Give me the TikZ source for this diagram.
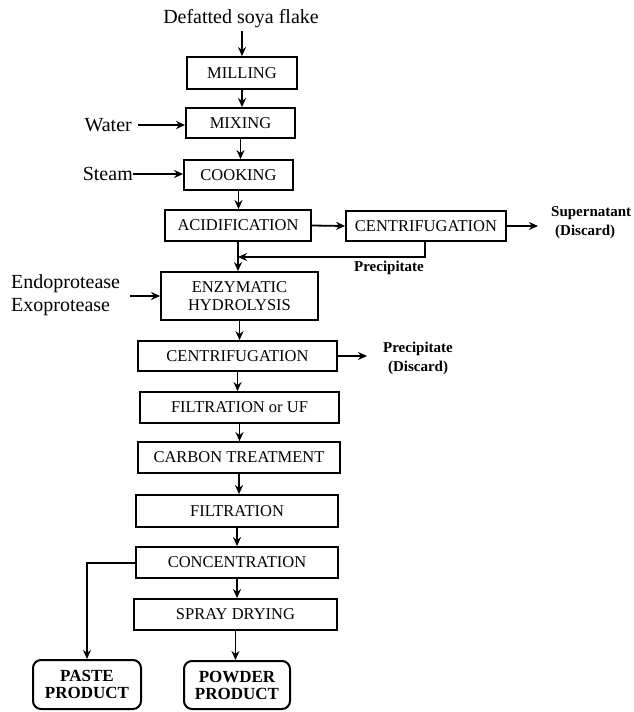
\documentclass[tikz,border=0pt]{standalone}
\usepackage{fontspec}
\setmainfont{Liberation Serif}
\usetikzlibrary{arrows.meta}
\begin{document}
\begin{tikzpicture}[x=1pt,y=-1pt,
  box/.style={draw,line width=1.8pt,fill=white,inner sep=0pt,align=center,
    font=\fontsize{16.5}{18}\selectfont},
  prod/.style={draw,line width=2pt,rounded corners=8pt,inner sep=0pt,align=center,
    font=\fontsize{17}{17}\selectfont\bfseries},
  side/.style={inner sep=0pt,font=\fontsize{20}{24}\selectfont},
  note/.style={inner sep=0pt,align=center,font=\fontsize{15}{19}\selectfont\bfseries},
  arr/.style={line width=1.8pt,-{Stealth[length=9pt,width=8pt]}},
  ln/.style={line width=1.8pt}]
\useasboundingbox (0,0) rectangle (633,712);
\node[side] (src) at (241,19) {Defatted soya flake};
\node[box,minimum width=110pt,minimum height=32pt] (mill) at (242,73) {MILLING};
\node[box,minimum width=109pt,minimum height=30pt] (mix) at (240.5,123) {MIXING};
\node[box,minimum width=109pt,minimum height=30pt] (cook) at (238.5,175) {COOKING};
\node[box,minimum width=146pt,minimum height=31pt] (acid) at (238,225.5) {ACIDIFICATION};
\node[box,minimum width=160pt,minimum height=30pt] (cen1) at (426,226) {CENTRIFUGATION};
\node[box,minimum width=157pt,minimum height=48pt] (enz) at (239.5,296) {ENZYMATIC\\HYDROLYSIS};
\node[box,minimum width=199pt,minimum height=30pt] (cen2) at (237.5,356) {CENTRIFUGATION};
\node[box,minimum width=199pt,minimum height=31pt] (filuf) at (239.5,407.5) {FILTRATION or UF};
\node[box,minimum width=202pt,minimum height=31pt] (carb) at (239,457.5) {CARBON TREATMENT};
\node[box,minimum width=202pt,minimum height=32pt] (filt) at (237,511) {FILTRATION};
\node[box,minimum width=202pt,minimum height=31pt] (conc) at (237,562.5) {CONCENTRATION};
\node[box,minimum width=203pt,minimum height=31pt] (spray) at (235.5,614.5) {SPRAY DRYING};
\node[prod,minimum width=108pt,minimum height=49pt] (paste) at (87,684.5) {PASTE\\PRODUCT};
\node[prod,minimum width=106pt,minimum height=48pt] (powder) at (237,685) {POWDER\\PRODUCT};
\node[side,anchor=east] (water) at (132,125) {Water};
\node[side,anchor=east] (steam) at (133,174) {Steam};
\node[side,anchor=west,align=left,font=\fontsize{20}{23}\selectfont] (prot) at (11,295) {Endoprotease\\Exoprotease};
\node[note,anchor=west,align=left] (sup) at (551,223) {Supernatant\\\hspace*{4pt}(Discard)};
\node[note] (prec1) at (389,268) {Precipitate};
\node[note] (prec2) at (418,358) {Precipitate\\(Discard)};
\coordinate (fbtop) at (425,241);
\coordinate (fbturn) at (425,257);
\coordinate (c1out) at (538,226);
\coordinate (c2out) at (367,356);
\coordinate (pturn) at (87,563);
% connectors
\draw[arr] (mill.north |- src.south) ++(0,3) -- (mill.north);
\draw[arr] (mill.south) -- (mill.south |- mix.north);
\draw[arr] (mix.south) -- (mix.south |- cook.north);
\draw[arr] (cook.south) -- (cook.south |- acid.north);
\draw[arr] (acid.south) -- (acid.south |- enz.north);
\draw[arr] (acid.east) -- (cen1.west);
\draw[arr] (cen1.east) -- (c1out);
\draw[arr] (fbtop) -- (fbturn) -- (acid.south |- fbturn);
\draw[arr] (water.east) ++(6,0) -- (mix.west |- water.east);
\draw[arr] (steam.east) -- (cook.west |- steam.east);
\draw[arr] (130,296) -- (enz.west |- 0,296);
\draw[arr] (enz.south) -- (enz.south |- cen2.north);
\draw[arr] (cen2.east) -- (c2out);
\draw[arr] (cen2.south) -- (cen2.south |- filuf.north);
\draw[arr] (filuf.south) -- (filuf.south |- carb.north);
\draw[arr] (carb.south) -- (carb.south |- filt.north);
\draw[arr] (filt.south) -- (filt.south |- conc.north);
\draw[arr] (conc.south) -- (conc.south |- spray.north);
\draw[arr] (spray.south) -- (spray.south |- powder.north);
\draw[arr] (conc.west |- pturn) -- (pturn) -- (paste.north);
\end{tikzpicture}
\end{document}
